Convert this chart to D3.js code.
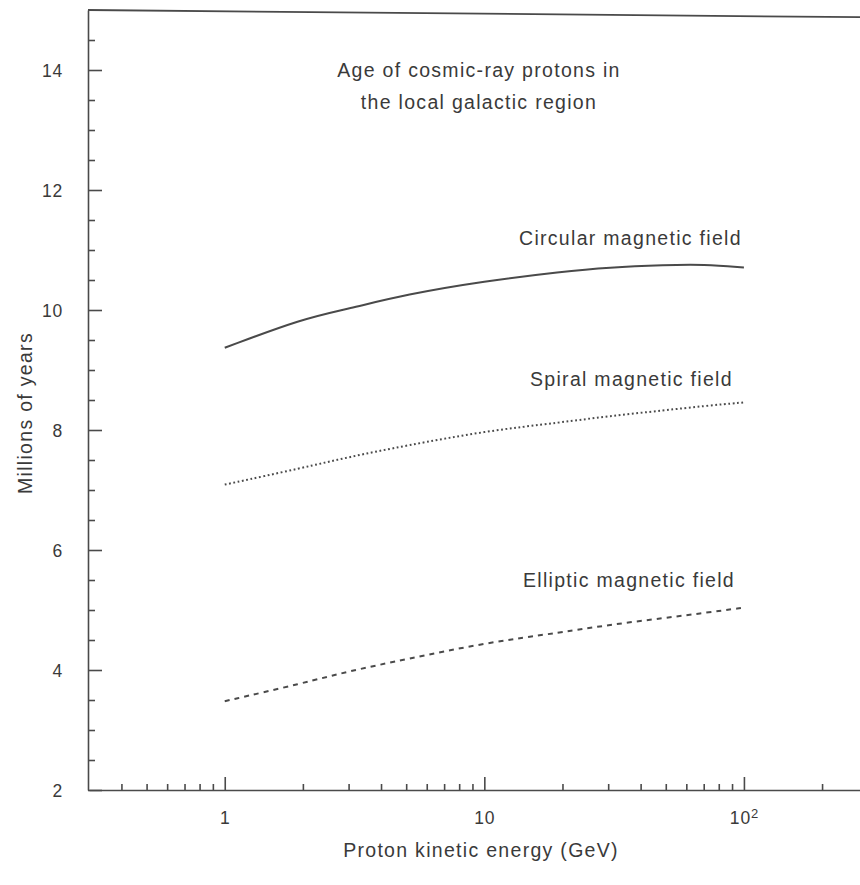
<!DOCTYPE html>
<html>
<head>
<meta charset="utf-8">
<script src="https://cdn.jsdelivr.net/npm/d3@7"></script>
<style>
  body { margin: 0; background: #fff; }
  svg { display: block; }
  text { font-family: "Liberation Sans", Arial, sans-serif; fill: #3a3a3a; }
  .axis path, .axis line { stroke: #4a4a4a; stroke-width: 1.6; }
  .axis text { font-size: 17.5px; letter-spacing: 0.8px; }
  .lbl { font-size: 19.5px; letter-spacing: 1.3px; }
</style>
</head>
<body>
<div id="chart"></div>
<script>
const energy = [1, 2, 3, 5, 10, 20, 30, 50, 70, 100];

// age in millions of years
const circular = [9.37, 9.86, 10.02, 10.26, 10.48, 10.64, 10.71, 10.75, 10.76, 10.71];
const spiral   = [7.09, 7.37, 7.55, 7.74, 7.98, 8.13, 8.23, 8.33, 8.40, 8.46];
const elliptic = [3.48, 3.78, 3.98, 4.18, 4.45, 4.63, 4.75, 4.87, 4.95, 5.04];

const yMajor = [2, 4, 6, 8, 10, 12, 14];
const xMajor = [1, 10, 100];
const xMajorLabels = ["1", "10", "10|2"];
const xMinor = [0.4, 0.5, 0.6, 0.7, 0.8, 0.9, 2, 3, 4, 5, 6, 7, 8, 9,
                20, 30, 40, 50, 60, 70, 80, 90, 200];

const titleLines = ["Age of cosmic-ray protons in", "the local galactic region"];

const width = 860, height = 885;
const mLeft = 88, mRight = 860, mTop = 10, mBottom = 790;

const svg = d3.select("#chart").append("svg")
    .attr("width", width)
    .attr("height", height);

const x = d3.scaleLog().domain([0.3, 280]).range([mLeft + 1, mRight]);
const y = d3.scaleLinear().domain([2, 15]).range([mBottom, mTop]);

// y axis, ticks point inward
svg.append("g")
    .attr("class", "axis")
    .attr("transform", `translate(${mLeft},0)`)
    .call(d3.axisLeft(y).tickValues(yMajor).tickSize(-14).tickPadding(25).tickSizeOuter(0))
    .call(g => g.selectAll("text").attr("dy", "0.36em"));

svg.append("g")
    .attr("class", "axis")
    .attr("transform", `translate(${mLeft},0)`)
    .call(d3.axisLeft(y)
        .tickValues(d3.range(2.5, 15, 0.5).filter(v => v % 2 !== 0))
        .tickSize(-7).tickFormat(""))
    .call(g => g.select(".domain").remove());

// x axis
const xAxis = svg.append("g")
    .attr("class", "axis")
    .attr("transform", `translate(0,${mBottom})`)
    .call(d3.axisBottom(x).tickValues(xMajor).tickSize(-13).tickPadding(22).tickSizeOuter(0)
        .tickFormat((d, i) => xMajorLabels[i]));

xAxis.selectAll(".tick text").each(function (d, i) {
    const parts = xMajorLabels[i].split("|");
    const t = d3.select(this).text(parts[0]);
    if (parts[1]) {
        t.append("tspan").attr("dy", "-0.5em").style("font-size", "13px").text(parts[1]);
    }
});

svg.append("g")
    .attr("class", "axis")
    .attr("transform", `translate(0,${mBottom})`)
    .call(d3.axisBottom(x).tickValues(xMinor).tickSize(-6).tickFormat(""))
    .call(g => g.select(".domain").remove());

// top frame line
svg.append("line")
    .attr("x1", mLeft).attr("x2", mRight)
    .attr("y1", y(15)).attr("y2", y(14.88))
    .attr("stroke", "#4a4a4a")
    .attr("stroke-width", 1.8);

// curves
const line = d3.line()
    .x(d => x(d[0]))
    .y(d => y(d[1]))
    .curve(d3.curveBasis);

const series = [
    { values: circular, dash: null, label: "Circular magnetic field", lx: 519, ly: 245 },
    { values: spiral, dash: "1.8,2.6", label: "Spiral magnetic field", lx: 530, ly: 386 },
    { values: elliptic, dash: "5,5", label: "Elliptic magnetic field", lx: 523, ly: 587 }
];

series.forEach(s => {
    svg.append("path")
        .datum(energy.map((e, i) => [e, s.values[i]]))
        .attr("d", line)
        .attr("fill", "none")
        .attr("stroke", "#4a4a4a")
        .attr("stroke-width", 2)
        .attr("stroke-dasharray", s.dash);

    svg.append("text")
        .attr("class", "lbl")
        .attr("x", s.lx)
        .attr("y", s.ly)
        .text(s.label);
});

// title
svg.append("g").selectAll("text")
    .data(titleLines)
    .join("text")
    .attr("class", "lbl")
    .attr("x", 479)
    .attr("y", (d, i) => 77 + i * 32)
    .attr("text-anchor", "middle")
    .text(d => d);

// axis titles
svg.append("text")
    .attr("class", "lbl")
    .attr("transform", "translate(32,413) rotate(-90)")
    .attr("text-anchor", "middle")
    .text("Millions of years");

svg.append("text")
    .attr("class", "lbl")
    .attr("x", 481)
    .attr("y", 857)
    .attr("text-anchor", "middle")
    .text("Proton kinetic energy (GeV)");
</script>
</body>
</html>
